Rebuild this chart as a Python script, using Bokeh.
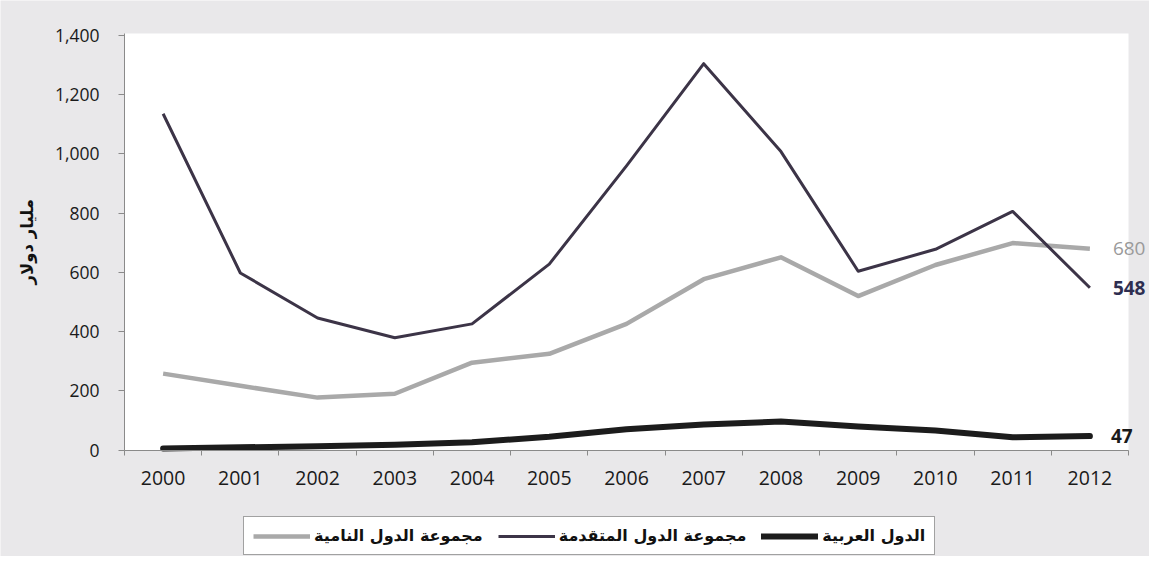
import math
from bokeh.plotting import figure
from bokeh.models import (Legend, LegendItem, Label, FixedTicker, NumeralTickFormatter,
                          BasicTickFormatter, Range1d, BoxAnnotation)
from bokeh.embed import file_html
from bokeh.resources import INLINE

years = [2000, 2001, 2002, 2003, 2004, 2005, 2006, 2007, 2008, 2009, 2010, 2011, 2012]
developed = [1136, 598, 446, 379, 426, 628, 960, 1305, 1008, 604, 678, 806, 548]
developing = [258, 217, 177, 190, 295, 325, 426, 577, 651, 520, 625, 699, 680]
arab = [5, 9, 13, 18, 26, 45, 70, 86, 96, 79, 66, 43, 47]

name_developing = "مجموعة الدول النامية"
name_developed = "مجموعة الدول المتقدمة"
name_arab = "الدول العربية"
y_title = "مليار دولار"
y_ticks = [0, 200, 400, 600, 800, 1000, 1200, 1400]

BG = "#e9e8ea"
C_DEV = "#3c3447"
C_DEVING = "#a9a9a9"
C_ARAB = "#1c1c1c"

W, H = 1149, 556
x0, x1 = years[0] - 0.5, years[-1] + 0.5
y_top = 1407
# screen layout: plot area from x=124 to 1128, y=33 (top) to 449.5 (zero line)
px_per_year = (1128 - 124) / (x1 - x0)
px_per_unit = (449.5 - 33) / y_top
xr = Range1d(x0 - 124 / px_per_year, x1 + (W - 1128) / px_per_year)
yr = Range1d(-(H - 449.5) / px_per_unit, 449.5 / px_per_unit)

p = figure(width=W, height=H, output_backend="svg", toolbar_location=None,
           x_range=xr, y_range=yr,
           min_border_left=0, min_border_right=0, min_border_top=0, min_border_bottom=0)
p.border_fill_color = BG
p.background_fill_color = BG
p.outline_line_color = None
p.xgrid.grid_line_color = None
p.ygrid.grid_line_color = None

# white plot area
p.add_layout(BoxAnnotation(left=x0, right=x1, bottom=0, top=y_top, fill_color="white",
                           fill_alpha=1.0, line_color=None, level="underlay"))

r_deving = p.line(years, developing, line_color=C_DEVING, line_width=4.5, line_join="round")
r_dev = p.line(years, developed, line_color=C_DEV, line_width=3, line_join="round")
r_arab = p.line(years, arab, line_color=C_ARAB, line_width=6, line_join="round", line_cap="round")

# axes
xa = p.xaxis[0]
xa.fixed_location = 0
xa.bounds = (x0, x1)
xa.ticker = FixedTicker(ticks=years, minor_ticks=[y - 0.5 for y in years] + [x1])
xa.formatter = BasicTickFormatter(use_scientific=False)
xa.major_tick_line_color = None
xa.major_tick_out = 5
xa.major_tick_in = 0
xa.minor_tick_line_color = "#8a8a8a"
xa.minor_tick_out = 5
xa.minor_tick_in = 0
xa.axis_line_color = "#8a8a8a"
xa.major_label_text_font = "Open Sans"
xa.major_label_text_font_size = "19.5px"
xa.major_label_text_color = "#1a1a1a"
xa.major_label_standoff = 16

ya = p.yaxis[0]
ya.fixed_location = x0
ya.bounds = (0, y_top)
ya.ticker = FixedTicker(ticks=y_ticks, minor_ticks=[])
ya.formatter = NumeralTickFormatter(format="0,0")
ya.major_tick_line_color = "#8a8a8a"
ya.major_tick_out = 6
ya.major_tick_in = 0
ya.minor_tick_line_color = None
ya.axis_line_color = "#8a8a8a"
ya.major_label_text_font = "Open Sans"
ya.major_label_text_font_size = "17.5px"
ya.major_label_text_color = "#1a1a1a"
ya.major_label_standoff = 19

# y title
p.add_layout(Label(x=27, x_units="screen", y=y_top / 2, text=y_title, angle=math.pi / 2,
                   text_align="center", text_baseline="middle",
                   text_font="DejaVu Sans", text_font_style="bold",
                   text_font_size="16.5px", text_color="#111111"))

# end labels
p.add_layout(Label(x=years[-1], y=developing[-1], text=str(developing[-1]), x_offset=23,
                   text_baseline="middle", text_font="Open Sans", text_font_size="19px",
                   text_color="#9a9a9a"))
p.add_layout(Label(x=years[-1], y=developed[-1], text=str(developed[-1]), x_offset=23,
                   text_baseline="middle", text_font="Open Sans", text_font_size="19px",
                   text_font_style="bold", text_color="#2e2e50"))
p.add_layout(Label(x=years[-1], y=arab[-1], text=str(arab[-1]), x_offset=21, y_offset=0,
                   text_baseline="middle", text_font="Open Sans", text_font_size="19px",
                   text_font_style="bold", text_color="#1a1a1a"))

legend = Legend(items=[LegendItem(label=name_developing, renderers=[r_deving]),
                       LegendItem(label=name_developed, renderers=[r_dev]),
                       LegendItem(label=name_arab, renderers=[r_arab])],
                orientation="horizontal", location=(243, 1),
                glyph_width=57, glyph_height=18, label_standoff=4, spacing=15,
                padding=9, margin=0,
                label_text_font="DejaVu Sans", label_text_font_style="bold",
                label_text_font_size="16px", label_text_color="#111111",
                border_line_color="#444444", border_line_width=1,
                background_fill_color="white", background_fill_alpha=1.0)
p.add_layout(legend, "center")

open("out.html", "w").write(file_html(p, INLINE))
